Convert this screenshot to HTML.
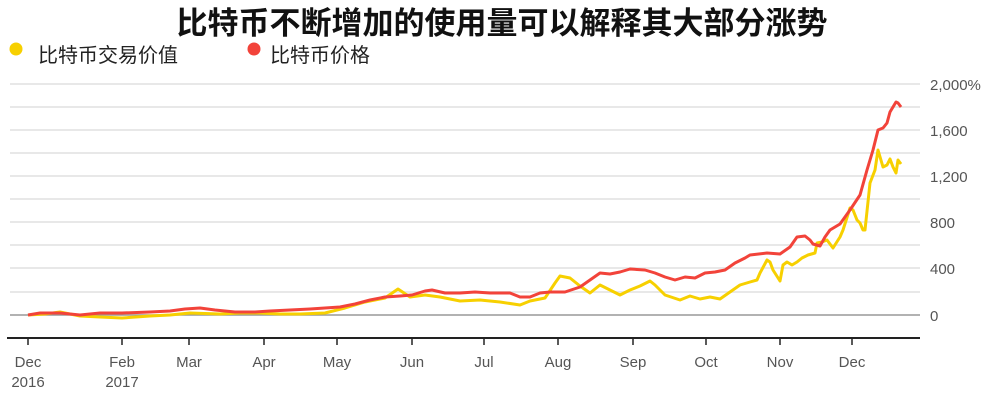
<!DOCTYPE html>
<html><head><meta charset="utf-8"><style>
body{margin:0;background:#fff;width:1000px;height:412px;overflow:hidden;font-family:"Liberation Sans","Noto Sans CJK SC",sans-serif;}
</style></head><body>
<svg width="1000" height="412" xmlns="http://www.w3.org/2000/svg" font-family="Liberation Sans, Noto Sans CJK SC, sans-serif">
<text x="502" y="34" text-anchor="middle" font-size="31" font-weight="bold" fill="#111">比特币不断增加的使用量可以解释其大部分涨势</text>
<circle cx="16" cy="49" r="6.5" fill="#f7d000"/>
<text x="38" y="62" font-size="20" fill="#222">比特币交易价值</text>
<circle cx="254" cy="49" r="6.5" fill="#f2433a"/>
<text x="270" y="62" font-size="20" fill="#222">比特币价格</text>
<g stroke="#e8e8e8" stroke-width="2">
<line x1="10" x2="920" y1="84" y2="84"/><line x1="10" x2="920" y1="107" y2="107"/><line x1="10" x2="920" y1="130" y2="130"/><line x1="10" x2="920" y1="153" y2="153"/><line x1="10" x2="920" y1="176" y2="176"/><line x1="10" x2="920" y1="199" y2="199"/><line x1="10" x2="920" y1="222" y2="222"/><line x1="10" x2="920" y1="245" y2="245"/><line x1="10" x2="920" y1="268" y2="268"/><line x1="10" x2="920" y1="292" y2="292"/>
</g>
<line x1="10" x2="920" y1="315" y2="315" stroke="#999" stroke-width="1.5"/>
<line x1="7" x2="920" y1="338" y2="338" stroke="#222" stroke-width="2"/>
<g stroke="#222" stroke-width="1.5">
<line x1="28" x2="28" y1="338" y2="345"/><line x1="122" x2="122" y1="338" y2="345"/><line x1="189" x2="189" y1="338" y2="345"/><line x1="264" x2="264" y1="338" y2="345"/><line x1="337" x2="337" y1="338" y2="345"/><line x1="412" x2="412" y1="338" y2="345"/><line x1="484" x2="484" y1="338" y2="345"/><line x1="558" x2="558" y1="338" y2="345"/><line x1="633" x2="633" y1="338" y2="345"/><line x1="706" x2="706" y1="338" y2="345"/><line x1="780" x2="780" y1="338" y2="345"/><line x1="852" x2="852" y1="338" y2="345"/>
</g>
<g font-size="15" fill="#555" text-anchor="middle">
<text x="28" y="367">Dec</text><text x="28" y="387">2016</text>
<text x="122" y="367">Feb</text><text x="122" y="387">2017</text>
<text x="189" y="367">Mar</text><text x="264" y="367">Apr</text><text x="337" y="367">May</text><text x="412" y="367">Jun</text><text x="484" y="367">Jul</text><text x="558" y="367">Aug</text><text x="633" y="367">Sep</text><text x="706" y="367">Oct</text><text x="780" y="367">Nov</text><text x="852" y="367">Dec</text>
</g>
<g font-size="15" fill="#555">
<text x="930" y="90">2,000%</text><text x="930" y="136">1,600</text><text x="930" y="182">1,200</text><text x="930" y="228">800</text><text x="930" y="274">400</text><text x="930" y="321">0</text>
</g>
<polyline fill="none" stroke="#f7d000" stroke-width="3" stroke-linejoin="round" points="28,315 45,314 60,312 80,316 100,317 122,318 150,316 170,315 190,313 220,314 240,313 260,313 280,314 300,314 325,313 345,308 365,302 385,298 398,289 410,297 425,295 440,297 460,301 480,300 500,302 520,305 530,301 545,298 555,283 560,276 570,278 580,286 590,293 600,285 610,290 620,295 630,290 640,286 650,281 655,285 665,295 680,300 690,296 700,299 710,297 720,299 730,292 740,285 750,282 757,280 760,273 767,260 770,262 773,270 780,281 783,265 787,262 792,265 797,262 802,258 808,255 815,253 817,243 822,242 827,240 833,248 840,237 843,230 850,208 853,210 857,220 860,223 863,230 865,230 870,183 875,170 878,150 883,167 887,165 890,159 893,167 896,173 898,160 901,164"/>
<polyline fill="none" stroke="#f2433a" stroke-width="3" stroke-linejoin="round" points="28,315 40,313 60,313 80,315 100,313 122,313 150,312 170,311 185,309 200,308 215,310 235,312 255,312 270,311 290,310 310,309 325,308 340,307 355,304 370,300 385,297 400,296 412,295 425,291 432,290 445,293 460,293 475,292 490,293 510,293 520,297 530,297 540,293 550,292 565,292 580,287 590,280 600,273 610,274 620,272 630,269 645,270 655,273 665,277 675,280 685,277 695,278 705,273 715,272 725,270 735,263 745,258 750,255 767,253 780,254 790,247 797,237 805,236 810,240 813,244 820,246 825,237 830,230 840,224 850,210 860,195 867,170 873,150 878,130 883,128 887,123 890,112 896,102 898,103 901,107"/>
</svg>
</body></html>
